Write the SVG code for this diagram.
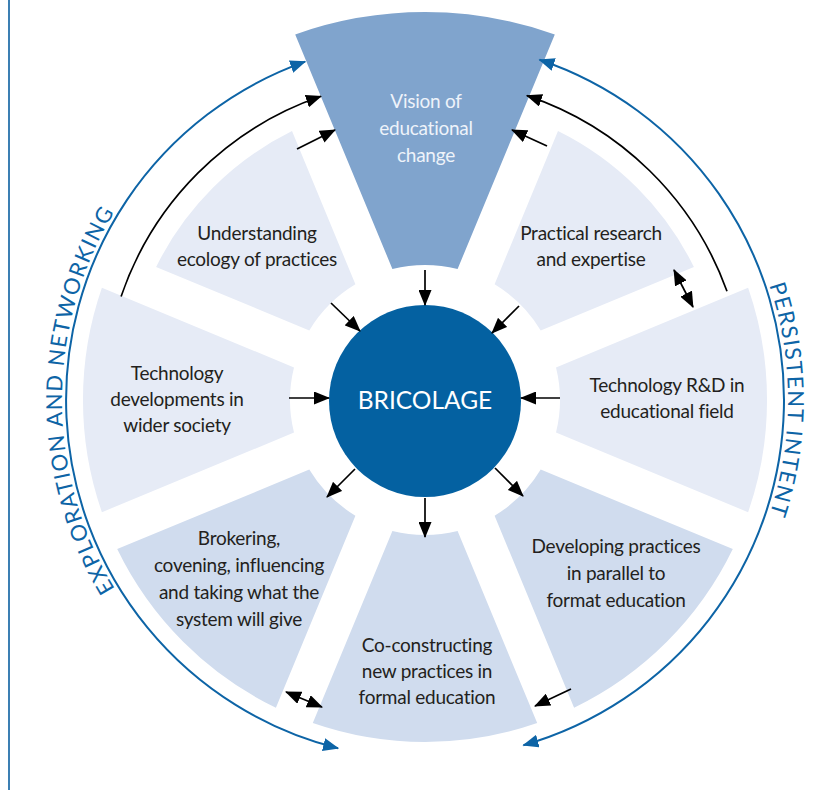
<svg xmlns="http://www.w3.org/2000/svg" width="838" height="790" viewBox="0 0 838 790">
<style>
.light{fill:#e6ebf6}
.mid{fill:#d0dcee}
.vision{fill:#80a4cd}
.t{font-family:Lato,"Open Sans","Liberation Sans",sans-serif;font-size:19px;fill:#231f20;text-anchor:middle;letter-spacing:-0.25px}
.tw{fill:#eef3fa}
.arr{fill:none;stroke:#000;stroke-width:1.7}
.barc{fill:none;stroke:#0d64a6;stroke-width:2}
.curve{font-family:Lato,"Open Sans","Liberation Sans",sans-serif;font-size:22px;fill:#0d64a6;letter-spacing:1.5px}
</style>
<defs>
<marker id="ah" viewBox="0 0 16 13" markerWidth="16" markerHeight="13" refX="15" refY="6.5" orient="auto-start-reverse" markerUnits="userSpaceOnUse">
<path d="M0,0 L16,6.5 L0,13 Z" fill="#000"/>
</marker>
<marker id="bh" viewBox="0 0 16 13" markerWidth="16" markerHeight="13" refX="15" refY="6.5" orient="auto-start-reverse" markerUnits="userSpaceOnUse">
<path d="M0,0 L16,6.5 L0,13 Z" fill="#0d64a6"/>
</marker>
<path id="ring" d="M425,37 A363,363 0 1 1 425,763 A363,363 0 1 1 425,37"/>
</defs>
<rect width="838" height="790" fill="#fff"/>
<line x1="9" y1="0" x2="9" y2="790" stroke="#0b5fa0" stroke-width="1.6"/>

<g id="vision">
<path class="vision" d="M295.2,34.4 A388,388 0 0 1 554.8,34.4 L457.6,269 A135,135 0 0 0 392.4,269 Z"/>
<text class="t tw" x="426" y="108">Vision of</text>
<text class="t tw" x="426" y="135">educational</text>
<text class="t tw" x="426" y="162">change</text>
</g>
<g id="practical">
<path class="light" d="M558,131.1 A300,300 0 0 1 693.9,267 L540.7,330.4 A135,135 0 0 0 494.6,284.3 Z"/>
<text class="t" x="591" y="240">Practical research</text>
<text class="t" x="591" y="266">and expertise</text>
</g>
<g id="rnd">
<path class="light" d="M748.1,287.8 A342,342 0 0 1 748.1,512.2 L556,432.6 A135,135 0 0 0 556,367.4 Z"/>
<text class="t" x="667" y="392">Technology R&amp;D in</text>
<text class="t" x="667" y="418">educational field</text>
</g>
<g id="developing">
<path class="mid" d="M732.8,549.1 A342,342 0 0 1 574.1,707.8 L494.6,515.7 A135,135 0 0 0 540.7,469.6 Z"/>
<text class="t" x="616" y="553">Developing practices</text>
<text class="t" x="616" y="580">in parallel to</text>
<text class="t" x="616" y="607">format education</text>
</g>
<g id="coconstructing">
<path class="mid" d="M537.2,723.1 A342,342 0 0 1 312.8,723.1 L392.4,531 A135,135 0 0 0 457.6,531 Z"/>
<text class="t" x="427" y="652">Co-constructing</text>
<text class="t" x="427" y="678">new practices in</text>
<text class="t" x="427" y="704">formal education</text>
</g>
<g id="brokering">
<path class="mid" d="M275.9,707.8 A342,342 0 0 1 117.2,549.1 L309.3,469.6 A135,135 0 0 0 355.4,515.7 Z"/>
<text class="t" x="239" y="545">Brokering,</text>
<text class="t" x="239" y="572">covening, influencing</text>
<text class="t" x="239" y="599">and taking what the</text>
<text class="t" x="239" y="626">system will give</text>
</g>
<g id="techdev">
<path class="light" d="M101.9,512.2 A342,342 0 0 1 101.9,287.8 L294,367.4 A135,135 0 0 0 294,432.6 Z"/>
<text class="t" x="177" y="380">Technology</text>
<text class="t" x="177" y="406">developments in</text>
<text class="t" x="177" y="432">wider society</text>
</g>
<g id="understanding">
<path class="light" d="M156.1,267 A300,300 0 0 1 292,131.1 L355.4,284.3 A135,135 0 0 0 309.3,330.4 Z"/>
<text class="t" x="257" y="240">Understanding</text>
<text class="t" x="257" y="266">ecology of practices</text>
</g>
<g id="bricolage">
<circle cx="425" cy="401" r="96" fill="#0461a1"/>
<text class="t" x="425" y="409" style="font-size:24.5px;fill:#fff;letter-spacing:0">BRICOLAGE</text>
</g>

<g id="connectors">
<path class="arr" d="M425,270 L425,305" marker-end="url(#ah)"/>
<path class="arr" d="M331,303 L360,331" marker-end="url(#ah)"/>
<path class="arr" d="M519,306 L492,333" marker-end="url(#ah)"/>
<path class="arr" d="M289,398 L329,398" marker-end="url(#ah)"/>
<path class="arr" d="M560,398 L521,398" marker-end="url(#ah)"/>
<path class="arr" d="M355,469 L327,497" marker-end="url(#ah)"/>
<path class="arr" d="M425,498 L425,537" marker-end="url(#ah)"/>
<path class="arr" d="M495,468 L523,496" marker-end="url(#ah)"/>
<path class="arr" d="M571,689 L535,706" marker-end="url(#ah)"/>
<path class="arr" d="M286,692 L322,707" marker-start="url(#ah)" marker-end="url(#ah)"/>
<path class="arr" d="M674,270 L693,307" marker-start="url(#ah)" marker-end="url(#ah)"/>
<path class="arr" d="M297,149 L335,130" marker-end="url(#ah)"/>
<path class="arr" d="M547,146 L512,130" marker-end="url(#ah)"/>
<path class="arr" d="M121.1,296.5 A321,321 0 0 1 321,96.3" marker-end="url(#ah)"/>
<path class="arr" d="M727,291.3 A321,321 0 0 0 526.9,95.6" marker-end="url(#ah)"/>
<path class="barc" d="M338.1,748.3 A359,359 0 0 1 305.2,61.6" marker-start="url(#bh)" marker-end="url(#bh)"/>
<path class="barc" d="M539.5,59.7 A359,359 0 0 1 523.4,745.2" marker-start="url(#bh)" marker-end="url(#bh)"/>
</g>

<g id="labels">
<text class="curve" text-anchor="middle"><textPath href="#ring" startOffset="75%">EXPLORATION AND NETWORKING</textPath></text>
<text class="curve" text-anchor="middle"><textPath href="#ring" startOffset="25%">PERSISTENT INTENT</textPath></text>
</g>
</svg>
